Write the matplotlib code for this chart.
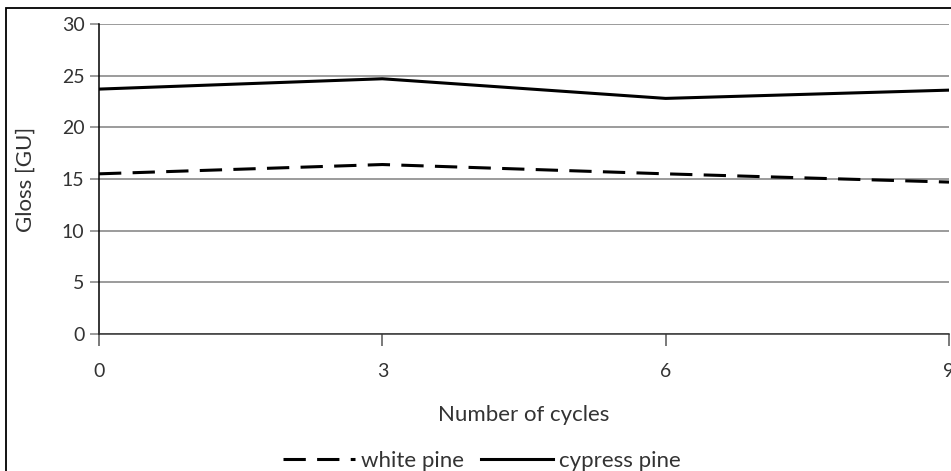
import matplotlib.pyplot as plt
from matplotlib.patches import Rectangle

# data
cycles = [0, 3, 6, 9]
whitePine = [15.5, 16.4, 15.5, 14.7]
cypressPine = [23.7, 24.7, 22.8, 23.6]
yTicks = [0, 5, 10, 15, 20, 25, 30]

plt.rcParams['font.family'] = ['Lato', 'DejaVu Sans']
textColor = '#333333'
gridColor = '#808080'

fig = plt.figure(figsize=(9.51, 4.71), dpi=100)
ax = fig.add_axes([99 / 951, 137 / 471, 850 / 951, 310 / 471])

# outer frame, cut off on the right and bottom like the original
fig.patches.append(Rectangle((6 / 951, -0.1), 1.1, 1.1 - 8 / 471,
                             transform=fig.transFigure, fill=False,
                             edgecolor='black', linewidth=1.3))

ax.plot(cycles, whitePine, color='black', linewidth=2.2,
        dashes=(7.3, 3.7), label='white pine')
ax.plot(cycles, cypressPine, color='black', linewidth=2.2, label='cypress pine')

ax.set_xlim(0, 9)
ax.set_ylim(0, 30)
ax.set_xticks(cycles)
ax.set_yticks(yTicks)
ax.grid(axis='y', color=gridColor, linewidth=1.1)
ax.set_axisbelow(True)

for side in ['top', 'right']:
    ax.spines[side].set_visible(False)
ax.spines['left'].set_color('black')
ax.spines['bottom'].set_color('#333333')
ax.spines['left'].set_linewidth(1.1)
ax.spines['bottom'].set_linewidth(1.1)

ax.tick_params(axis='y', length=6.5, width=1.1, color=gridColor,
               labelsize=14, labelcolor=textColor, pad=4)
ax.tick_params(axis='x', length=8.6, width=1.1, color='#555555',
               labelsize=14, labelcolor=textColor, pad=12)

ax.set_xlabel('Number of cycles', fontsize=16, color=textColor, labelpad=18)
ax.set_ylabel('Gloss [GU]', fontsize=16, color=textColor, labelpad=19)

fig.legend(loc='center', bbox_to_anchor=(482 / 951, 1 - 461 / 471), ncol=2,
           frameon=False, fontsize=16, labelcolor=textColor,
           handlelength=3.25, handletextpad=0.27, columnspacing=0.77)

fig.savefig('out.png', dpi=100)
